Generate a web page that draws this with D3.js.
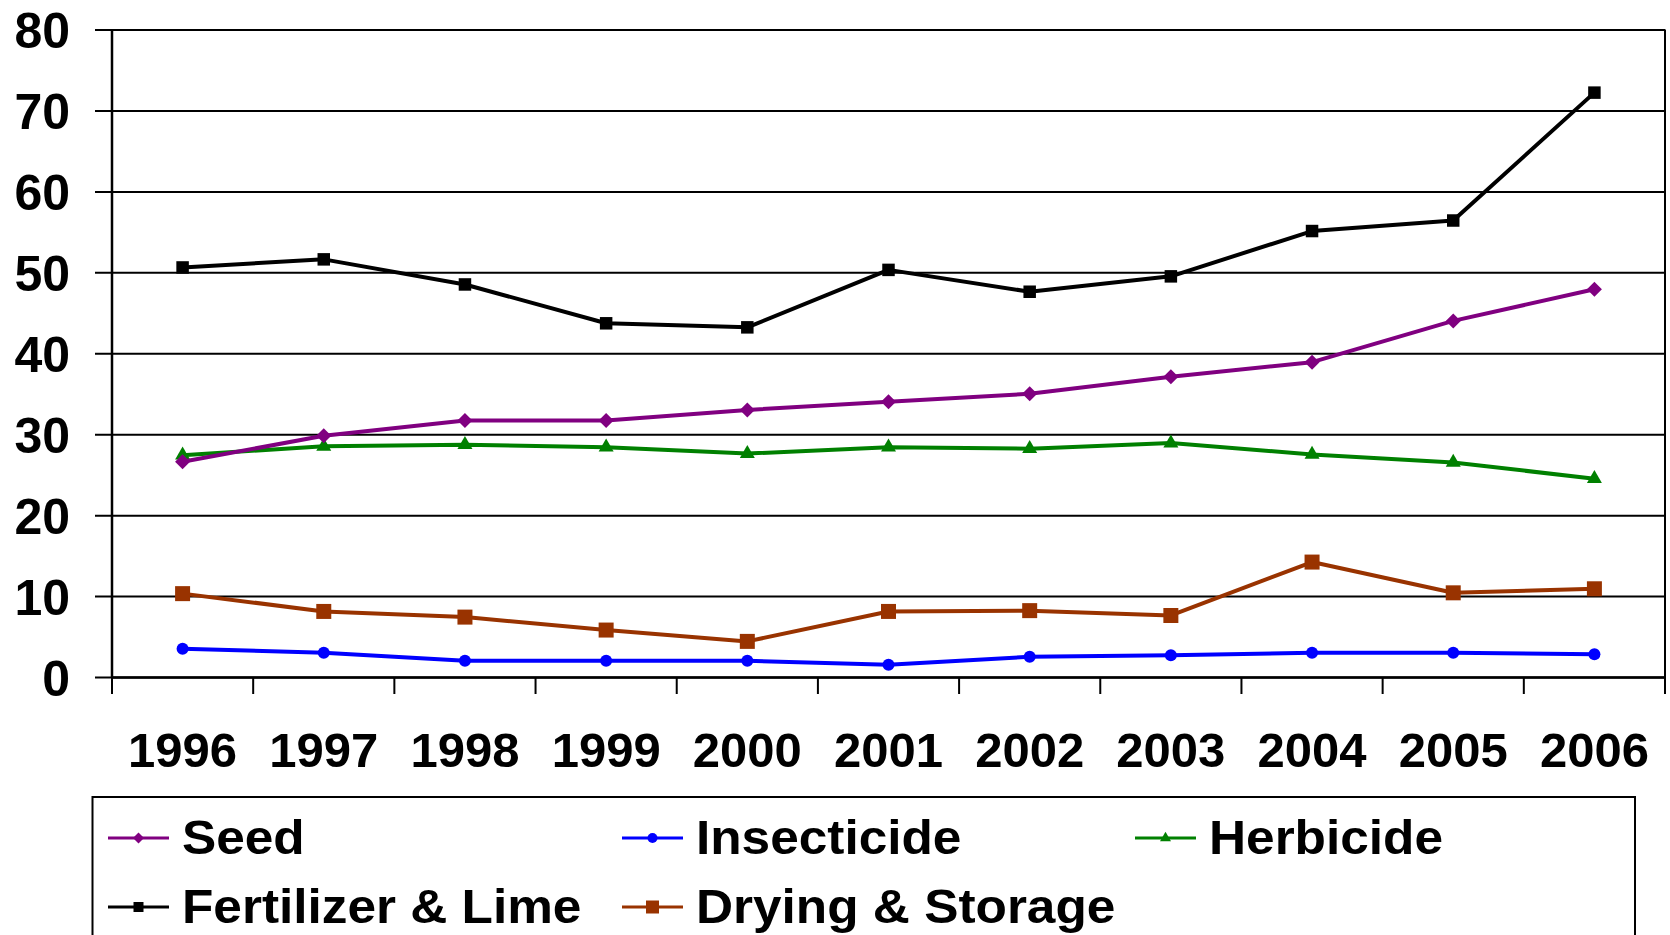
<!DOCTYPE html>
<html>
<head>
<meta charset="utf-8">
<script src="https://cdn.jsdelivr.net/npm/d3@7"></script>
<style>
  html, body { margin: 0; padding: 0; background: #fff; }
  svg { display: block; }
  text { font-family: "Liberation Sans", Arial, sans-serif; font-weight: bold; fill: #000; }
</style>
</head>
<body>
<svg id="chart" width="1670" height="935"></svg>
<script>
const years = ["1996","1997","1998","1999","2000","2001","2002","2003","2004","2005","2006"];
const yTicks = [0,10,20,30,40,50,60,70,80];

const seed        = [26.6, 29.8, 31.7, 31.7, 33.0, 34.0, 35.0, 37.1, 38.9, 44.0, 47.9];
const insecticide = [3.5, 3.0, 2.0, 2.0, 2.0, 1.5, 2.5, 2.7, 3.0, 3.0, 2.8];
const herbicide   = [27.4, 28.5, 28.7, 28.4, 27.6, 28.4, 28.2, 28.9, 27.5, 26.5, 24.5];
const fertilizer  = [50.6, 51.6, 48.5, 43.7, 43.2, 50.3, 47.6, 49.5, 55.1, 56.4, 72.2];
const drying      = [10.3, 8.1, 7.4, 5.8, 4.4, 8.1, 8.2, 7.6, 14.2, 10.4, 10.9];

const seriesNames = ["Seed", "Insecticide", "Herbicide", "Fertilizer & Lime", "Drying & Storage"];

const series = [
  { name: seriesNames[0], values: seed,        color: "#800080", shape: d3.symbolDiamond2, size: 15, lsize: 11 },
  { name: seriesNames[1], values: insecticide, color: "#0000FF", shape: d3.symbolCircle,   size: 12, lsize: 10 },
  { name: seriesNames[2], values: herbicide,   color: "#008000", shape: d3.symbolTriangle, size: 15, lsize: 11 },
  { name: seriesNames[3], values: fertilizer,  color: "#000000", shape: d3.symbolSquare,   size: 12.5, lsize: 10 },
  { name: seriesNames[4], values: drying,      color: "#993300", shape: d3.symbolSquare,   size: 15, lsize: 13 }
];

const svg = d3.select("#chart");
const L = 112, R = 1665, T = 29.5, B = 677;

const x = d3.scaleBand().domain(years).range([L, R]).padding(0);
const y = d3.scaleLinear().domain([0, 80]).range([B, T]);
const cx = d => x(d) + x.bandwidth() / 2;

// symbol area from visual width
function symArea(shape, w) {
  if (shape === d3.symbolSquare) return w * w;
  if (shape === d3.symbolCircle) return Math.PI * (w / 2) * (w / 2);
  if (shape === d3.symbolTriangle) return (w * w * Math.sqrt(3)) / 4;
  if (shape === d3.symbolDiamond2) { const r = w / 2 / 0.62625; return r * r; }
  return w * w;
}

// Y axis with gridlines
const yAxis = d3.axisLeft(y).tickValues(yTicks).tickSizeInner(-(R - L)).tickSizeOuter(0).tickPadding(0).tickFormat(d3.format("d"));
const gy = svg.append("g").attr("transform", `translate(${L},0)`).call(yAxis);
gy.select(".domain").remove();
gy.selectAll(".tick line").attr("x1", -17).attr("x2", R - L).attr("stroke", "#000").attr("stroke-width", 2);
gy.selectAll(".tick text")
  .attr("x", -42)
  .attr("dy", "0.36em")
  .style("font-size", "50px")
  .style("font-family", "'Liberation Sans', Arial, sans-serif")
  .style("font-weight", "bold")
  .attr("fill", "#000");

// frame: left, right borders
svg.append("line").attr("x1", L).attr("x2", L).attr("y1", T).attr("y2", B).attr("stroke", "#000").attr("stroke-width", 2.5);
svg.append("line").attr("x1", R).attr("x2", R).attr("y1", T).attr("y2", B).attr("stroke", "#000").attr("stroke-width", 2);

// X axis labels
const xAxis = d3.axisBottom(x).tickSize(0).tickPadding(0);
const gx = svg.append("g").attr("transform", `translate(0,${B})`).call(xAxis);
gx.select(".domain").attr("stroke", "#000").attr("stroke-width", 2.5);
gx.selectAll(".tick text")
  .attr("y", 90)
  .attr("dy", 0)
  .style("font-size", "49px")
  .style("font-family", "'Liberation Sans', Arial, sans-serif")
  .style("font-weight", "bold")
  .attr("fill", "#000");

// category boundary ticks
const bounds = years.map(d => x(d)).concat([x.range()[1]]);
svg.append("g").selectAll("line").data(bounds).join("line")
  .attr("x1", d => d).attr("x2", d => d)
  .attr("y1", B).attr("y2", B + 17)
  .attr("stroke", "#000").attr("stroke-width", 2);

// Lines and markers
const line = d3.line().x((v, i) => cx(years[i])).y(v => y(v));
const order = [3, 4, 1, 2, 0];
order.forEach(k => {
  const s = series[k];
  const g = svg.append("g");
  g.append("path").datum(s.values).attr("d", line)
    .attr("fill", "none").attr("stroke", s.color).attr("stroke-width", 4).attr("stroke-linejoin", "round");
  g.selectAll("path.m").data(s.values).join("path").attr("class", "m")
    .attr("d", d3.symbol().type(s.shape).size(symArea(s.shape, s.size)))
    .attr("transform", (v, i) => `translate(${cx(years[i])},${y(v)})`)
    .attr("fill", s.color);
});

// Legend
const lg = svg.append("g");
lg.append("rect").attr("x", 92.5).attr("y", 797).attr("width", 1542.5).attr("height", 200)
  .attr("fill", "#fff").attr("stroke", "#000").attr("stroke-width", 2);
const colX = [108, 622, 1135];
const rowY = [838, 907];
series.forEach((s, i) => {
  const cxL = colX[i % 3], cyL = rowY[Math.floor(i / 3)];
  lg.append("line").attr("x1", cxL).attr("x2", cxL + 61).attr("y1", cyL).attr("y2", cyL)
    .attr("stroke", s.color).attr("stroke-width", 3);
  lg.append("path").attr("d", d3.symbol().type(s.shape).size(symArea(s.shape, s.lsize)))
    .attr("transform", `translate(${cxL + 30.5},${cyL})`).attr("fill", s.color);
  lg.append("text")
    .attr("transform", `translate(${cxL + 74},${cyL + 15.5}) scale(1.07,1)`)
    .style("font-size", "48px").text(s.name);
});
</script>
</body>
</html>
